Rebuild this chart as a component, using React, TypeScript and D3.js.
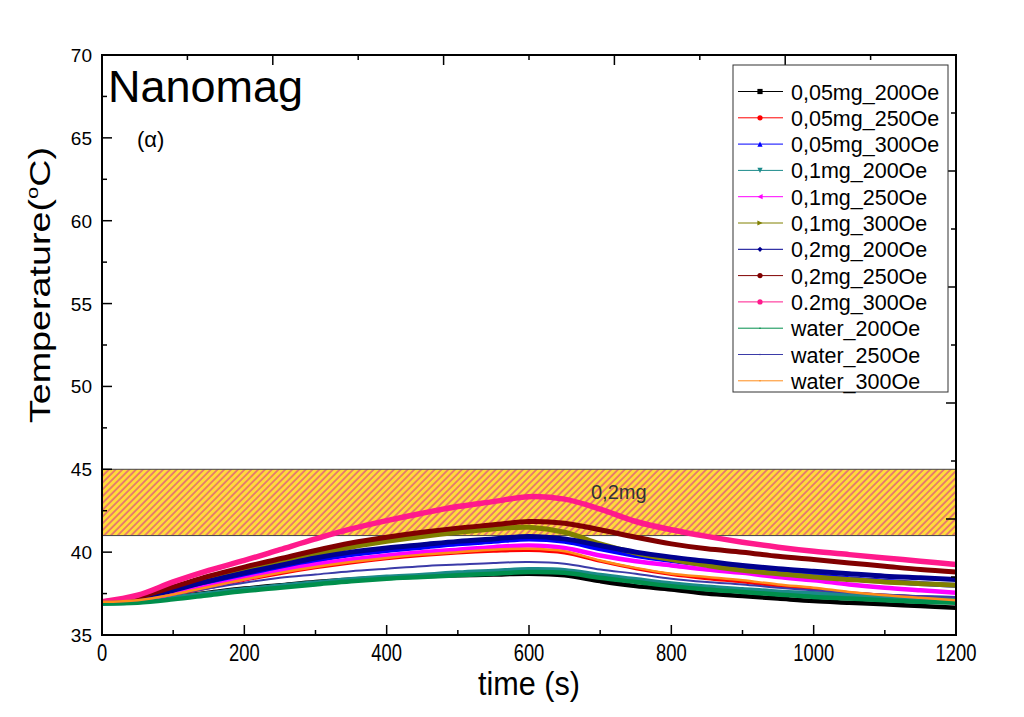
import React from "react";
import * as d3 from "d3";

const times = [0, 50, 100, 150, 200, 250, 300, 350, 400, 450, 500, 550, 600, 650, 700, 750, 800, 850, 900, 950, 1000, 1050, 1100, 1150, 1200];

const mg005_200 = [36.95, 37.05, 37.3, 37.55, 37.8, 38.0, 38.2, 38.35, 38.45, 38.55, 38.6, 38.65, 38.7, 38.6, 38.25, 37.95, 37.75, 37.5, 37.35, 37.2, 37.05, 36.95, 36.85, 36.75, 36.65];
const mg005_250 = [37.0, 37.1, 37.4, 37.85, 38.3, 38.7, 39.05, 39.35, 39.6, 39.8, 39.95, 40.05, 40.1, 39.95, 39.45, 39.0, 38.65, 38.4, 38.2, 37.95, 37.75, 37.55, 37.4, 37.3, 37.2];
const mg005_300 = [37.0, 37.15, 37.6, 38.1, 38.6, 39.05, 39.5, 39.85, 40.1, 40.3, 40.5, 40.65, 40.8, 40.65, 40.2, 39.8, 39.5, 39.25, 39.0, 38.8, 38.6, 38.4, 38.25, 38.1, 38.0];
const mg01_200 = [36.9, 37.0, 37.25, 37.5, 37.75, 37.95, 38.15, 38.35, 38.5, 38.6, 38.75, 38.85, 38.95, 38.9, 38.6, 38.35, 38.1, 37.9, 37.75, 37.6, 37.5, 37.4, 37.3, 37.25, 37.2];
const mg01_250 = [37.0, 37.1, 37.5, 37.95, 38.4, 38.85, 39.25, 39.55, 39.8, 40.0, 40.15, 40.3, 40.4, 40.25, 39.8, 39.45, 39.2, 38.95, 38.75, 38.5, 38.3, 38.05, 37.85, 37.7, 37.55];
const mg01_300 = [37.0, 37.2, 37.8, 38.4, 38.9, 39.4, 39.85, 40.3, 40.65, 40.95, 41.2, 41.4, 41.5, 41.2, 40.5, 39.95, 39.55, 39.2, 38.9, 38.7, 38.5, 38.35, 38.2, 38.1, 38.0];
const mg02_200 = [37.0, 37.2, 37.7, 38.25, 38.75, 39.2, 39.65, 40.0, 40.25, 40.45, 40.65, 40.8, 40.95, 40.8, 40.4, 40.0, 39.7, 39.45, 39.2, 39.0, 38.85, 38.7, 38.55, 38.45, 38.35];
const mg02_250 = [37.0, 37.3, 37.9, 38.55, 39.1, 39.6, 40.1, 40.55, 40.9, 41.2, 41.45, 41.65, 41.85, 41.75, 41.35, 40.9, 40.5, 40.2, 40.0, 39.75, 39.55, 39.35, 39.15, 38.95, 38.8];
const mg02_300 = [37.0, 37.4, 38.2, 38.9, 39.5, 40.15, 40.8, 41.4, 41.9, 42.35, 42.75, 43.05, 43.35, 43.2, 42.6, 41.85, 41.35, 40.95, 40.6, 40.3, 40.05, 39.85, 39.65, 39.45, 39.25];
const water_200 = [36.9, 36.95, 37.15, 37.4, 37.65, 37.85, 38.05, 38.25, 38.4, 38.5, 38.6, 38.7, 38.8, 38.75, 38.45, 38.2, 37.95, 37.75, 37.6, 37.45, 37.3, 37.2, 37.1, 37.0, 36.95];
const water_250 = [37.0, 37.1, 37.45, 37.8, 38.15, 38.45, 38.65, 38.85, 39.0, 39.15, 39.25, 39.35, 39.4, 39.3, 38.95, 38.7, 38.4, 38.2, 38.05, 37.85, 37.7, 37.55, 37.45, 37.35, 37.3];
const water_300 = [37.0, 37.1, 37.45, 37.9, 38.35, 38.75, 39.1, 39.4, 39.65, 39.85, 40.0, 40.15, 40.2, 40.05, 39.5, 39.05, 38.7, 38.5, 38.3, 38.05, 37.85, 37.6, 37.4, 37.25, 37.1];

const seriesNames = ["0,05mg_200Oe", "0,05mg_250Oe", "0,05mg_300Oe", "0,1mg_200Oe", "0,1mg_250Oe", "0,1mg_300Oe", "0,2mg_200Oe", "0,2mg_250Oe", "0.2mg_300Oe", "water_200Oe", "water_250Oe", "water_300Oe"];
const seriesValues = [mg005_200, mg005_250, mg005_300, mg01_200, mg01_250, mg01_300, mg02_200, mg02_250, mg02_300, water_200, water_250, water_300];
const seriesColors = ["#000000", "#ff0000", "#0000ff", "#1a8a8a", "#ff00ff", "#808000", "#000090", "#800000", "#ff1a8c", "#008f4c", "#3b3ba8", "#ff8c1a"];
const seriesWidths = [4.5, 3, 5, 5, 4.5, 5, 5, 5, 5.5, 4.5, 2, 2.5];
const seriesMarkers = ["square", "circle", "triUp", "triDown", "triLeft", "triRight", "diamond", "circle", "circle", "none", "none", "none"];

const xTicks = [0, 200, 400, 600, 800, 1000, 1200];
const xMinor = [100, 300, 500, 700, 900, 1100];
const yTicks = [35, 40, 45, 50, 55, 60, 65, 70];
const yMinor = [37.5, 42.5, 47.5, 52.5, 57.5, 62.5, 67.5];
const bandRange = [41, 45];

const L = 102, R = 956, T = 55, B = 635;

function Marker({ type, x, y, color }: { type: string; x: number; y: number; color: string }) {
  const s = 2.6;
  if (type === "square") return <rect x={x - s} y={y - s} width={2 * s} height={2 * s} fill={color} />;
  if (type === "circle") return <circle cx={x} cy={y} r={s} fill={color} />;
  if (type === "triUp") return <path d={`M${x},${y - s}L${x + s},${y + s}L${x - s},${y + s}Z`} fill={color} />;
  if (type === "triDown") return <path d={`M${x},${y + s}L${x + s},${y - s}L${x - s},${y - s}Z`} fill={color} />;
  if (type === "triLeft") return <path d={`M${x - s},${y}L${x + s},${y - s}L${x + s},${y + s}Z`} fill={color} />;
  if (type === "triRight") return <path d={`M${x + s},${y}L${x - s},${y - s}L${x - s},${y + s}Z`} fill={color} />;
  if (type === "diamond") return <path d={`M${x},${y - s}L${x + s},${y}L${x},${y + s}L${x - s},${y}Z`} fill={color} />;
  return <circle cx={x} cy={y} r={0.8} fill={color} />;
}

export default function App() {
  const x = d3.scaleLinear().domain([0, 1200]).range([L, R]);
  const y = d3.scaleLinear().domain([35, 70]).range([B, T]);
  const xTop = d3.scaleLinear().domain([0, 10]).range([L, R]);
  const yRight = d3.scaleLinear().domain([0, 10]).range([B, T]);
  const line = d3
    .line<number>()
    .x((_, i) => x(times[i]))
    .y((d) => y(d))
    .curve(d3.curveCatmullRom.alpha(0.5));

  const font = "Arial, 'Liberation Sans', sans-serif";
  const legX = 733, legY = 65, legW = 215, legH = 327;
  const rowH = 26.3;

  return (
    <svg width={1024} height={717} style={{ position: "absolute", left: 0, top: 0, background: "#fff" }} fontFamily={font}>
      <defs>
        <pattern id="hatch" width={4.8} height={4.8} patternUnits="userSpaceOnUse" patternTransform="rotate(45)">
          <rect width={4.8} height={4.8} fill="#ffdc3c" />
          <line x1={1} y1={0} x2={1} y2={4.8} stroke="#dc4c80" strokeWidth={1.3} />
        </pattern>
        <clipPath id="plotclip">
          <rect x={L} y={T} width={R - L} height={B - T} />
        </clipPath>
      </defs>
      <rect width={1024} height={717} fill="#fff" />

      {/* band */}
      <rect x={L} y={y(bandRange[1])} width={R - L} height={y(bandRange[0]) - y(bandRange[1])} fill="url(#hatch)" stroke="#444" strokeWidth={1} />

      {/* series */}
      <g clipPath="url(#plotclip)">
        {seriesValues.map((vals, i) => (
          <path key={seriesNames[i]} d={line(vals) || ""} fill="none" stroke={seriesColors[i]} strokeWidth={seriesWidths[i]} strokeLinejoin="round" />
        ))}
      </g>

      <text x={591} y={499} fontSize={20} fill="#333">0,2mg</text>

      {/* axes frame */}
      <rect x={L} y={T} width={R - L} height={B - T} fill="none" stroke="#000" strokeWidth={2} />

      {/* bottom ticks */}
      {xTicks.map((t) => (
        <line key={"xb" + t} x1={x(t)} x2={x(t)} y1={B} y2={B - 10} stroke="#000" strokeWidth={1.5} />
      ))}
      {xMinor.map((t) => (
        <line key={"xm" + t} x1={x(t)} x2={x(t)} y1={B} y2={B - 5} stroke="#000" strokeWidth={1.5} />
      ))}
      {/* left ticks */}
      {yTicks.map((t) => (
        <line key={"yl" + t} x1={L} x2={L + 10} y1={y(t)} y2={y(t)} stroke="#000" strokeWidth={1.5} />
      ))}
      {yMinor.map((t) => (
        <line key={"ym" + t} x1={L} x2={L + 5} y1={y(t)} y2={y(t)} stroke="#000" strokeWidth={1.5} />
      ))}
      {/* top ticks (secondary layer) */}
      {d3.range(1, 10).map((k) => (
        <line key={"xt" + k} x1={xTop(k)} x2={xTop(k)} y1={T} y2={T + (k % 2 === 0 ? 10 : 5)} stroke="#000" strokeWidth={1.5} />
      ))}
      {/* right ticks (secondary layer) */}
      {d3.range(1, 10).map((k) => (
        <line key={"yr" + k} x1={R} x2={R - (k % 2 === 0 ? 10 : 5)} y1={yRight(k)} y2={yRight(k)} stroke="#000" strokeWidth={1.5} />
      ))}

      {/* tick labels */}
      {yTicks.map((t) => (
        <text key={"yt" + t} x={92} y={y(t) + 7} fontSize={19} textAnchor="end" fill="#000">{t}</text>
      ))}
      {xTicks.map((t) => (
        <text key={"xtl" + t} transform={`translate(${x(t)},661) scale(0.8,1)`} fontSize={23} textAnchor="middle" fill="#000">{t}</text>
      ))}

      {/* axis titles */}
      <text transform={`translate(${(L + R) / 2},695) scale(0.9,1)`} fontSize={34} textAnchor="middle" fill="#000">time (s)</text>
      <text transform={`translate(50,285) rotate(-90) scale(1.3,1)`} fontSize={29} textAnchor="middle" fill="#000">
        Temperature(<tspan fontSize={17} dy={-12}>o</tspan><tspan dy={12}>C)</tspan>
      </text>

      <text x={108} y={102} fontSize={45} fill="#000">Nanomag</text>
      <text x={137} y={147} fontSize={22} fill="#000">(α)</text>

      {/* legend */}
      <rect x={legX} y={legY} width={legW} height={legH} fill="#fff" stroke="#333" strokeWidth={1} />
      {seriesNames.map((name, i) => {
        const cy = legY + 26.5 + i * rowH;
        return (
          <g key={"leg" + name}>
            <line x1={legX + 5} x2={legX + 50} y1={cy} y2={cy} stroke={seriesColors[i]} strokeWidth={1} />
            <Marker type={seriesMarkers[i]} x={legX + 27} y={cy} color={seriesColors[i]} />
            <text x={legX + 58} y={cy + 8} fontSize={21.5} fill="#000">{name}</text>
          </g>
        );
      })}
    </svg>
  );
}
